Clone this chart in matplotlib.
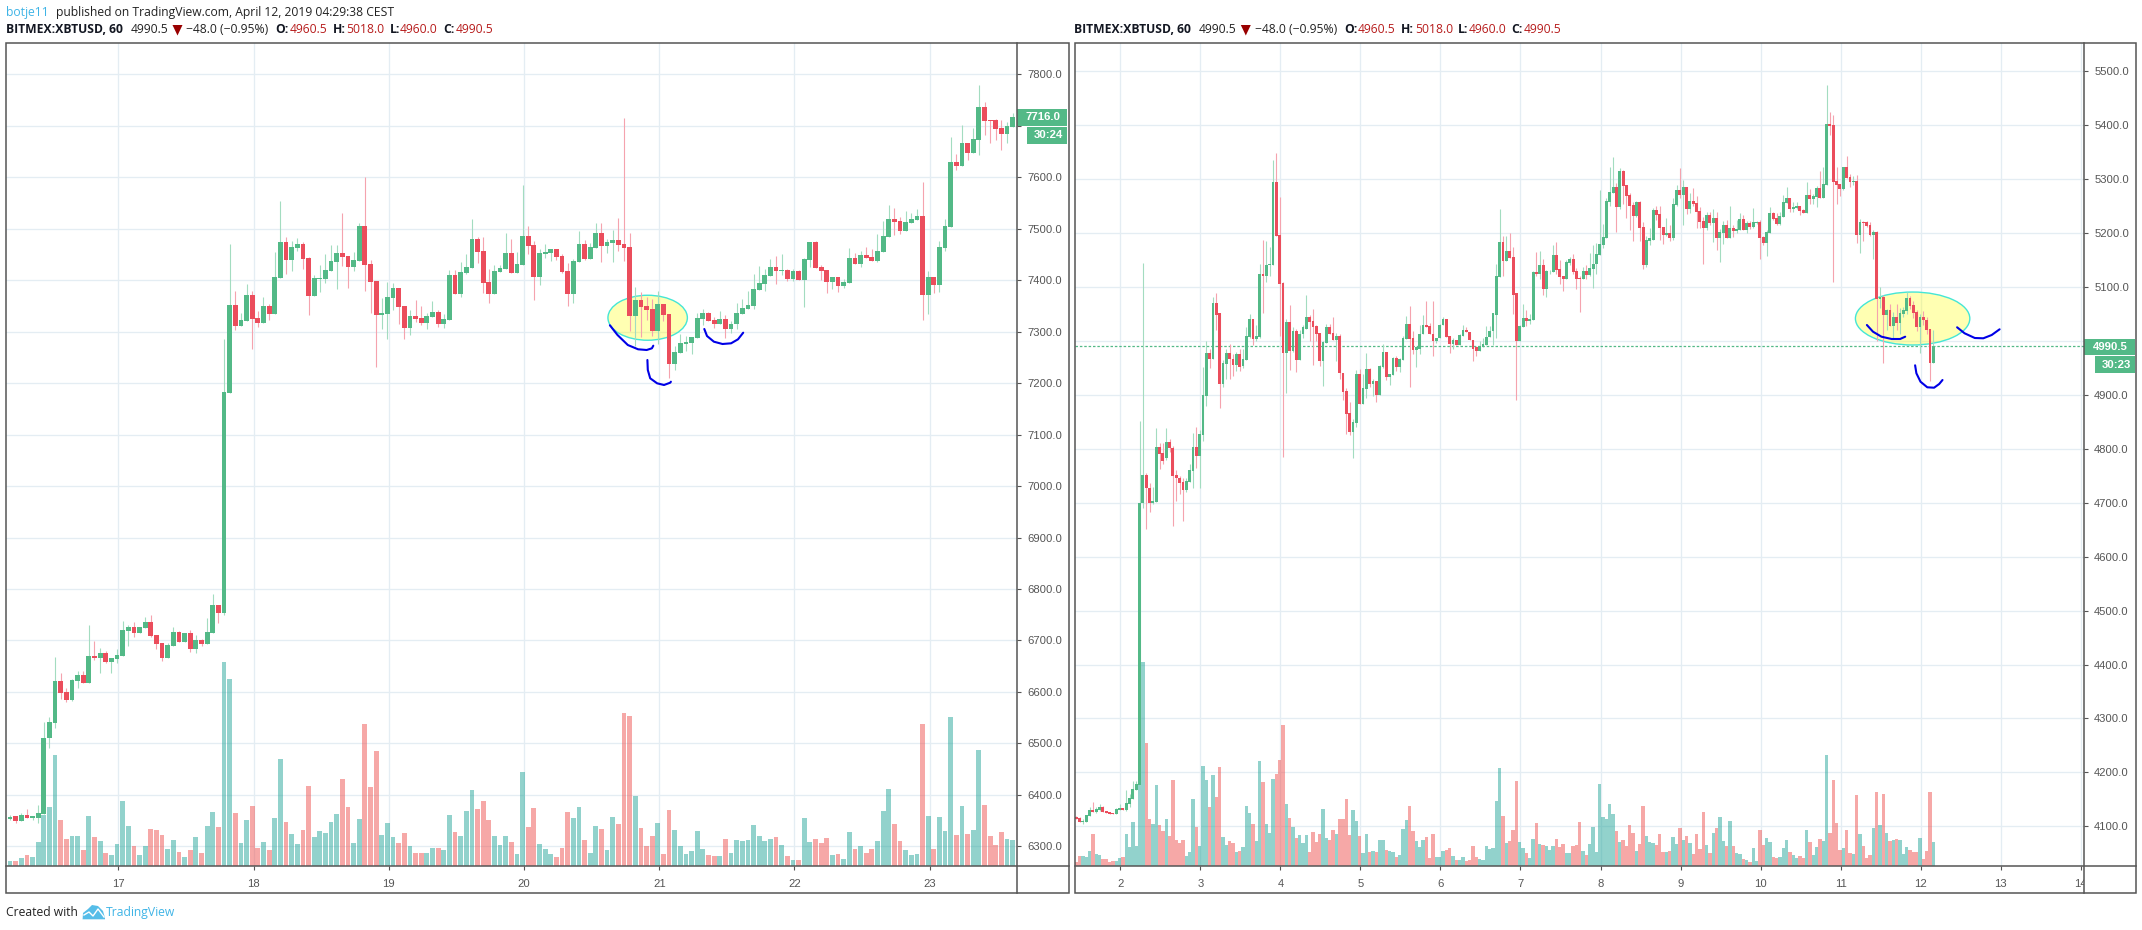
import matplotlib
matplotlib.use('Agg')
import matplotlib.pyplot as plt
import matplotlib.transforms as mtransforms
from matplotlib.patches import Rectangle, Ellipse, Polygon
import numpy as np

# left chart, 1h bars
left_open = [6353,6358,6350,6360,6355,6356,6362,6510,6540,6622,6599,6585,6622,6632,6618,6669,6665,6676,6659,6664,
    6670,6719,6727,6715,6725,6735,6711,6695,6666,6689,6716,6697,6714,6684,6701,6693,6714,6769,6753,7181,
    7352,7311,7321,7371,7327,7317,7350,7334,7404,7474,7439,7463,7470,7443,7369,7402,7402,7418,7435,7453,
    7447,7426,7437,7505,7431,7398,7332,7334,7365,7385,7350,7307,7330,7326,7317,7328,7338,7315,7323,7410,
    7373,7414,7424,7480,7457,7396,7373,7416,7422,7453,7414,7429,7486,7468,7406,7451,7453,7461,7447,7418,
    7373,7435,7470,7441,7462,7491,7466,7472,7478,7470,7464,7330,7361,7350,7344,7301,7354,7334,7237,7258,
    7276,7278,7288,7325,7336,7323,7315,7325,7305,7314,7334,7344,7350,7381,7392,7408,7426,7418,7420,7402,
    7418,7400,7439,7474,7426,7420,7396,7406,7389,7395,7443,7431,7449,7445,7437,7455,7484,7519,7515,7496,
    7511,7517,7525,7371,7406,7391,7463,7503,7630,7622,7667,7647,7672,7737,7711,7711,7696,7684,7698]
left_close = [6357,6350,6360,6355,6358,6364,6510,6541,6622,6597,6585,6624,6632,6618,6669,6665,6676,6659,6665,6671,
    6721,6727,6715,6727,6735,6709,6693,6666,6691,6716,6697,6714,6684,6701,6693,6716,6769,6753,7183,7352,
    7311,7323,7371,7325,7317,7350,7334,7406,7474,7439,7464,7470,7441,7369,7404,7404,7420,7437,7453,7445,
    7426,7439,7505,7429,7396,7332,7336,7367,7385,7348,7307,7330,7324,7317,7330,7338,7315,7325,7410,7373,
    7416,7426,7480,7455,7394,7373,7418,7424,7453,7414,7431,7486,7466,7406,7453,7455,7461,7445,7416,7373,
    7437,7470,7441,7464,7491,7466,7474,7478,7468,7462,7330,7361,7348,7342,7301,7354,7332,7237,7260,7278,
    7280,7290,7326,7336,7321,7315,7325,7305,7315,7336,7346,7352,7383,7394,7410,7426,7418,7420,7402,7418,
    7400,7441,7474,7424,7418,7396,7406,7389,7397,7443,7431,7449,7443,7437,7457,7486,7519,7513,7496,7513,
    7519,7525,7371,7406,7391,7464,7505,7630,7622,7667,7647,7674,7737,7709,7709,7694,7684,7700,7717]
left_high = [6360,6358,6364,6372,6358,6381,6541,6551,6667,6636,6608,6626,6641,6640,6731,6698,6686,6680,6665,6684,
    6738,6731,6735,6727,6746,6750,6711,6695,6695,6726,6718,6714,6720,6711,6703,6743,6790,6769,7285,7470,
    7379,7336,7392,7379,7340,7367,7354,7455,7554,7484,7476,7482,7474,7445,7410,7429,7451,7468,7468,7530,
    7447,7455,7511,7600,7439,7398,7365,7396,7394,7385,7350,7342,7361,7350,7336,7359,7342,7335,7420,7420,
    7435,7451,7519,7484,7484,7422,7429,7429,7492,7480,7455,7585,7505,7476,7460,7470,7461,7461,7451,7433,
    7441,7496,7478,7472,7511,7511,7480,7498,7521,7715,7491,7387,7377,7367,7363,7379,7354,7334,7272,7295,
    7291,7290,7336,7344,7338,7328,7340,7332,7321,7356,7363,7379,7412,7428,7422,7441,7447,7451,7422,7422,
    7420,7443,7474,7476,7429,7420,7406,7406,7402,7463,7453,7457,7465,7461,7490,7515,7546,7540,7523,7534,
    7530,7538,7591,7418,7406,7476,7519,7678,7645,7702,7667,7696,7779,7746,7711,7713,7711,7707,7725]
left_low = [6351,6346,6350,6355,6352,6345,6362,6491,6529,6587,6581,6583,6608,6618,6618,6663,6636,6657,6637,6656,
    6670,6690,6706,6715,6725,6707,6684,6660,6666,6689,6697,6697,6678,6676,6689,6693,6714,6734,6750,7181,
    7303,7311,7321,7266,7309,7317,7323,7334,7404,7412,7418,7457,7422,7332,7369,7377,7395,7418,7383,7428,
    7385,7418,7437,7379,7336,7231,7305,7285,7342,7315,7285,7293,7318,7313,7305,7328,7309,7307,7323,7373,
    7367,7412,7424,7433,7375,7356,7373,7416,7422,7414,7414,7429,7451,7361,7391,7443,7437,7439,7414,7350,
    7356,7435,7439,7441,7462,7435,7453,7435,7457,7437,7301,7272,7290,7323,7291,7276,7321,7210,7225,7258,
    7262,7257,7288,7313,7321,7307,7315,7288,7298,7305,7334,7344,7344,7381,7379,7408,7392,7410,7398,7398,
    7400,7348,7426,7424,7400,7375,7383,7377,7385,7395,7431,7426,7443,7437,7435,7455,7484,7488,7490,7496,
    7511,7517,7323,7334,7375,7377,7457,7503,7614,7622,7634,7647,7643,7682,7667,7672,7653,7667,7698]
left_vol = [16,16,25,34,28,73,154,178,334,139,82,91,91,49,151,88,76,40,34,67,
    196,121,61,34,61,112,109,94,52,79,43,28,49,88,40,121,163,118,613,562,
    160,70,139,181,55,73,49,145,322,133,97,67,109,241,88,106,100,133,157,262,
    178,70,142,427,238,346,94,130,88,70,100,61,40,40,40,55,55,49,154,103,
    91,166,229,172,196,139,91,64,91,73,37,283,118,175,67,52,37,28,55,163,
    145,178,79,40,121,112,49,148,127,460,451,211,115,61,91,130,37,169,109,61,
    37,46,106,52,34,31,31,82,40,79,76,79,124,91,76,82,88,64,31,19,
    19,145,73,82,70,85,34,37,22,103,52,61,40,52,76,166,232,127,76,49,
    34,37,427,151,52,148,106,448,94,181,97,109,349,184,91,64,103,82,79]
left_days = [17, 18, 19, 20, 21, 22, 23]
left_prices = [6300 + 100 * i for i in range(16)]

# right chart, 1h bars
right_open = [4117,4115,4108,4108,4119,4131,4126,4130,4136,4128,
    4127,4125,4123,4131,4134,4130,4141,4151,4167,4177,
    4700,4751,4728,4699,4702,4804,4793,4783,4812,4802,
    4751,4746,4738,4723,4739,4759,4804,4786,4826,4898,
    4977,4966,5071,5051,4921,4958,4977,4967,4956,4975,
    4953,4965,5007,5041,5004,5008,5125,5121,5140,5141,
    5295,5197,5108,4978,5036,4982,5019,4965,5012,5023,
    5045,5037,5028,5015,4963,4997,5025,5015,5002,5010,
    4941,4908,4867,4832,4847,4938,4884,4911,4948,4920,
    4926,4900,4951,4979,4934,4936,4968,4951,4965,5004,
    5032,5006,4984,4986,5012,5030,5028,5013,4999,5005,
    5029,5041,5010,4995,5002,4993,5010,5021,5017,5002,
    4988,4982,4988,4993,5007,5018,5049,5119,5184,5149,
    5167,5156,5088,5000,5026,5043,5037,5039,5128,5124,
    5141,5097,5129,5128,5160,5134,5121,5115,5145,5152,
    5130,5117,5114,5130,5123,5134,5142,5160,5178,5191,
    5258,5275,5286,5249,5315,5290,5271,5252,5232,5258,
    5212,5140,5186,5188,5243,5236,5212,5197,5201,5191,
    5252,5280,5271,5286,5245,5260,5256,5241,5223,5210,
    5234,5219,5228,5191,5200,5215,5191,5210,5204,5206,
    5227,5206,5219,5212,5219,5221,5193,5182,5200,5238,
    5228,5217,5230,5256,5265,5245,5247,5251,5243,5238,
    5271,5263,5267,5284,5265,5289,5402,5400,5297,5291,
    5282,5323,5304,5295,5297,5197,5221,5220,5215,5197,
    5202,5077,5082,5049,5058,5027,5045,5034,5050,5056,
    5080,5067,5054,5026,5045,5039,5023,4960]
right_close = [4114,4108,4110,4121,4131,4127,4132,4136,4127,4125,
    4123,4123,4132,4134,4131,4143,4152,4169,4178,4700,
    4751,4728,4699,4704,4804,4791,4778,4812,4802,4749,
    4746,4736,4723,4741,4760,4804,4786,4828,4899,4977,
    4966,5071,5049,4921,4960,4977,4966,4956,4975,4952,
    4967,5010,5041,5004,5010,5125,5121,5140,5143,5295,
    5195,5106,4978,5036,4982,5019,4965,5013,5025,5045,
    5036,5026,5013,4963,4998,5025,5013,5002,5010,4940,
    4906,4865,4832,4849,4938,4884,4912,4948,4920,4926,
    4900,4953,4979,4934,4938,4968,4951,4966,5006,5032,
    5004,4984,4988,5013,5030,5026,5012,4999,5006,5030,
    5041,5008,4995,5002,4993,5011,5021,5016,5001,4986,
    4982,4990,4995,5008,5019,5051,5121,5184,5149,5167,
    5154,5086,5000,5028,5043,5037,5041,5128,5124,5141,
    5097,5130,5130,5160,5132,5119,5115,5147,5152,5128,
    5115,5114,5130,5123,5136,5143,5162,5180,5193,5260,
    5276,5286,5249,5315,5288,5269,5251,5232,5258,5210,
    5140,5188,5190,5243,5234,5210,5197,5201,5191,5254,
    5280,5271,5286,5245,5260,5254,5239,5221,5210,5234,
    5219,5228,5191,5202,5215,5191,5210,5204,5208,5227,
    5206,5219,5212,5221,5221,5191,5182,5202,5238,5227,
    5217,5232,5258,5265,5245,5249,5251,5241,5238,5271,
    5263,5269,5284,5265,5291,5402,5399,5295,5289,5282,
    5323,5302,5295,5297,5197,5221,5219,5214,5197,5202,
    5077,5082,5049,5058,5027,5045,5034,5052,5058,5080,
    5065,5052,5026,5045,5038,5021,4960,4990.5]
right_high = [4119,4118,4114,4121,4135,4145,4135,4141,4138,4128,
    4127,4125,4134,4141,4134,4167,4160,4184,4184,4852,
    5145,4755,4736,4730,4839,4810,4810,4838,4818,4806,
    4760,4750,4745,4745,4771,4830,4841,4835,4951,5000,
    4985,5082,5089,5051,4965,4985,4995,4975,4980,4985,
    4985,5025,5050,5041,5030,5143,5188,5186,5175,5336,
    5349,5267,5110,5040,5067,5025,5023,5021,5030,5086,
    5049,5060,5030,5015,5000,5031,5031,5045,5014,5012,
    4941,4912,4887,4855,4947,4948,4938,4977,4950,4930,
    4926,4955,4995,4979,4938,4970,4972,4968,5010,5047,
    5065,5019,4988,5030,5049,5075,5034,5075,5006,5032,
    5045,5041,5010,5006,5002,5013,5030,5025,5017,5002,
    4990,5000,5005,5027,5027,5052,5143,5245,5195,5195,
    5201,5175,5088,5030,5069,5058,5050,5130,5165,5167,
    5152,5132,5132,5177,5184,5150,5121,5150,5155,5162,
    5135,5120,5138,5140,5164,5177,5181,5280,5217,5265,
    5322,5342,5293,5321,5317,5290,5275,5257,5260,5260,
    5220,5194,5210,5247,5251,5251,5212,5228,5215,5265,
    5289,5321,5299,5286,5274,5283,5268,5249,5230,5240,
    5240,5244,5240,5208,5222,5225,5250,5215,5225,5237,
    5234,5222,5222,5246,5222,5225,5195,5205,5249,5240,
    5237,5240,5271,5285,5265,5257,5258,5251,5245,5295,
    5281,5272,5287,5316,5323,5475,5425,5419,5323,5291,
    5323,5343,5310,5305,5308,5227,5222,5222,5220,5206,
    5204,5100,5085,5060,5069,5054,5069,5061,5063,5091,
    5083,5075,5058,5050,5055,5045,5023,5021]
right_low = [4113,4108,4104,4108,4119,4127,4124,4128,4127,4125,
    4123,4122,4123,4130,4130,4129,4135,4151,4167,4177,
    4691,4651,4683,4697,4702,4762,4772,4780,4795,4656,
    4704,4717,4667,4720,4739,4728,4765,4728,4815,4880,
    4950,4966,5020,4876,4915,4930,4930,4935,4944,4945,
    4950,4965,5005,4993,5000,5005,5052,5110,5120,5141,
    5195,5010,4784,4904,4947,4980,4943,4965,5005,5023,
    5000,4956,5000,4953,4917,4997,5013,5002,4962,4930,
    4891,4828,4826,4783,4840,4884,4884,4895,4915,4898,
    4887,4900,4950,4927,4919,4936,4945,4942,4965,5004,
    4915,4975,4951,4975,5012,5026,5012,4973,4997,5005,
    5029,5008,4977,4985,4993,4993,5010,5016,5001,4962,
    4973,4982,4988,4993,5007,4992,5005,5119,5121,5149,
    5154,5050,4891,5000,5026,5028,5032,5039,5120,5115,
    5085,5082,5125,5128,5125,5106,5093,5115,5140,5125,
    5097,5054,5114,5115,5120,5099,5125,5160,5172,5191,
    5250,5275,5202,5245,5254,5228,5205,5186,5230,5186,
    5134,5137,5177,5188,5225,5188,5180,5195,5186,5188,
    5250,5265,5215,5235,5237,5250,5210,5210,5142,5205,
    5215,5183,5168,5147,5180,5191,5191,5193,5200,5206,
    5206,5200,5208,5210,5217,5152,5178,5158,5200,5225,
    5215,5215,5230,5255,5240,5240,5245,5234,5238,5238,
    5254,5254,5249,5265,5265,5289,5382,5110,5254,5269,
    5280,5302,5285,5290,5182,5164,5185,5212,5195,5152,
    4999,5061,4960,5020,5027,5005,5020,5012,5045,5050,
    5060,5042,5018,4977,5030,5012,4925,4960]
right_vol = [13,31,31,28,46,97,37,34,22,22,
    13,16,16,25,28,97,58,133,61,463,
    613,370,142,127,244,124,106,142,91,259,
    79,70,79,31,43,202,118,61,301,259,
    178,274,208,298,88,64,76,70,43,46,
    58,181,160,127,76,316,253,127,100,262,
    277,319,424,187,145,118,85,94,70,94,
    43,103,73,97,172,85,79,109,97,142,
    142,202,94,169,136,91,40,97,43,46,
    43,79,79,49,46,43,28,34,112,139,
    181,106,76,58,79,88,25,97,28,28,
    46,49,55,31,19,19,28,16,19,61,
    28,22,19,61,52,55,196,295,151,70,
    76,109,256,73,55,40,25,82,130,67,
    64,61,49,61,82,58,67,40,40,61,
    64,133,46,34,67,118,43,247,148,142,
    187,157,106,73,79,61,124,100,46,67,
    181,91,73,70,64,97,43,43,46,88,
    67,115,79,91,70,37,97,52,163,64,
    40,100,115,148,76,61,136,61,40,37,
    22,19,13,55,16,109,64,85,73,28,
    25,28,55,79,43,34,25,31,25,109,
    73,34,58,82,76,334,100,259,130,49,
    55,109,40,37,214,97,61,25,34,115,
    223,124,217,100,76,79,82,79,37,58,
    49,43,43,85,22,46,223,73]
right_days = [2, 3, 4, 5, 6, 7, 8, 9, 10, 11, 12, 13, 14]
right_prices = [4100 + 100 * i for i in range(15)]

UP = '#53b987'
DOWN = '#eb4d5c'
UP_WICK = '#a3dcc0'
DOWN_WICK = '#f5a3ae'
VOL_UP = '#26a69a'
VOL_DOWN = '#ef5350'
GRID = '#e4edf3'
FRAME = '#555555'
BLUE_TEXT = '#3fb4e6'
RED_TEXT = '#b71c1c'
INK_BLUE = '#0000e6'

W, H = 2142, 930
SANS = 'Open Sans'
AXIS_FONT = 'Liberation Sans'

fig = plt.figure(figsize=(W / 100, H / 100), dpi=100, facecolor='white')


def px_axes(x0, y0, x1, y1, **kw):
    return fig.add_axes([x0 / W, 1 - y1 / H, (x1 - x0) / W, (y1 - y0) / H], **kw)


# overlay in image pixels, for frames, headers and hand drawn bits
over = fig.add_axes([0, 0, 1, 1], zorder=10)
over.set_xlim(0, W)
over.set_ylim(H, 0)
over.axis('off')
over.patch.set_alpha(0)


def candles(x0, x1, bar0, bar_px, day0_bar, ymap, o, h, l, c, v, days, prices, hidden, vol_w, ellipse):
    # x0,x1: plot px range, bar0: px of first bar, ymap: (price, px, px per 100)
    top, bottom = 43.3, 866.3
    ax = px_axes(x0, top, x1, bottom, zorder=2)
    o, h, l, c, v = map(np.array, (o, h, l, c, v))
    idx = np.arange(len(o))
    up = c >= o
    vol_span = (bottom - top) * 3
    vol_tr = mtransforms.blended_transform_factory(ax.transData, ax.transAxes)
    ax.bar(idx[up], v[up] / vol_span, width=vol_w, color=VOL_UP, alpha=0.5, transform=vol_tr, zorder=2, linewidth=0)
    ax.bar(idx[~up], v[~up] / vol_span, width=vol_w, color=VOL_DOWN, alpha=0.5, transform=vol_tr, zorder=2, linewidth=0)
    ax.add_patch(Ellipse(ellipse[:2], ellipse[2], ellipse[3], facecolor=(1, 1, 0, 0.3), edgecolor='#45e6d6', linewidth=1.0, zorder=1.5))
    ax.vlines(idx[up], l[up], h[up], color=UP_WICK, linewidth=0.8, zorder=3)
    ax.vlines(idx[~up], l[~up], h[~up], color=DOWN_WICK, linewidth=0.8, zorder=3)
    ax.bar(idx[up], (c - o)[up], bottom=o[up], width=0.85, color=UP, zorder=4, linewidth=0)
    ax.bar(idx[~up], (o - c)[~up], bottom=c[~up], width=0.85, color=DOWN, zorder=4, linewidth=0)
    ax.set_xlim((x0 - bar0) / bar_px, (x1 - bar0) / bar_px)
    p0, y0, per100 = ymap
    ax.set_ylim(p0 - (bottom - y0) / per100 * 100, p0 + (y0 - top) / per100 * 100)
    # the price box sits on top of this tick's label
    ax.set_yticks(prices, ['' if p == hidden else f'{p:.1f}' for p in prices])
    ax.set_xticks([day0_bar + 24 * i for i in range(len(days))], [str(d) for d in days])
    ax.yaxis.tick_right()
    ax.tick_params(axis='y', length=3, width=0.8, color=FRAME, labelcolor='#555555', pad=4)
    ax.tick_params(axis='x', length=3, width=0.8, color=FRAME, labelcolor='#555555', pad=6)
    for lab in ax.get_xticklabels() + ax.get_yticklabels():
        lab.set_fontfamily(AXIS_FONT)
        lab.set_fontsize(8.1)
    ax.grid(True, color=GRID, linewidth=0.95)
    ax.set_axisbelow(True)
    for sp in ax.spines.values():
        sp.set_visible(False)
    return ax


def frame(x0, x_axis, x1):
    over.add_patch(Rectangle((x0, 43.3), x1 - x0, 850, fill=False, edgecolor=FRAME, linewidth=1.1))
    over.plot([x_axis, x_axis], [43.3, 893.3], color=FRAME, linewidth=1.1)
    over.plot([x0, x1], [866.3, 866.3], color=FRAME, linewidth=1.1)


def label_box(x0, y0, x1, y1, text):
    over.add_patch(Rectangle((x0, y0), x1 - x0, y1 - y0, facecolor=UP, edgecolor='none'))
    over.text((x0 + x1) / 2 + 1, (y0 + y1) / 2, text, color='white', fontsize=8.2, family=AXIS_FONT,
              fontweight='bold', ha='center', va='center')


def header(dx, y):
    runs = [(6.2, 'BITMEX:XBTUSD, 60', 'bold', '#131722'), (130.2, '4990.5', 'normal', '#222222'),
            (186.3, '\u221248.0 (\u22120.95%)', 'normal', '#222222'),
            (275.5, 'O:', 'bold', '#131722'), (289.3, '4960.5', 'normal', RED_TEXT),
            (332.6, 'H:', 'bold', '#131722'), (346.4, '5018.0', 'normal', RED_TEXT),
            (389.5, 'L:', 'bold', '#131722'), (400.1, '4960.0', 'normal', RED_TEXT),
            (443.2, 'C:', 'bold', '#131722'), (455.2, '4990.5', 'normal', RED_TEXT)]
    for x, s, weight, col in runs:
        over.text(x + dx, y, s, fontsize=8.7, family=SANS, fontweight=weight, color=col, va='center')
    over.add_patch(Polygon([(172.5 + dx, 25), (182.5 + dx, 25), (177.5 + dx, 35.5)], facecolor='#990000', edgecolor='none'))


# left panel
ax_l = candles(6.2, 1017.3, 10.0, 5.633, 19.26, (7800, 74.3, 51.47),
               left_open, left_high, left_low, left_close, left_vol, left_days, left_prices, 7700, 0.85,
               (113.2, 7327, 14.1, 87.4))
frame(6.2, 1017.3, 1068.6)
label_box(1017.3, 109, 1067, 126, '7716.0')
label_box(1027, 127, 1067, 143.7, '30:24')

# right panel
ax_r = candles(1074.5, 2084.4, 1076.2, 3.335, 13.22, (5500, 71.3, 53.93),
               right_open, right_high, right_low, right_close, right_vol, right_days, right_prices, 5000, 1.0,
               (250.8, 5041.6, 34.3, 98.2))
ax_r.axhline(4990.5, color=UP, linewidth=0.9, linestyle=(0, (2, 1.5)), zorder=2.5)
# the 14 is cut off by the price scale
clip = mtransforms.TransformedBbox(mtransforms.Bbox([[0, 0], [2084.4, H]]), mtransforms.IdentityTransform())
for lab in ax_r.get_xticklabels():
    lab.set_clip_box(clip)
    lab.set_clip_on(True)
frame(1074.5, 2084.4, 2135.6)
label_box(2084.4, 338.5, 2134.8, 355, '4990.5')
label_box(2095, 356, 2134.8, 373, '30:23')

# hand drawn curves
curves = [
    [(609.9, 325.3), (617.5, 335), (627.8, 345), (638.1, 349.3), (646.7, 350), (651.9, 348.3), (653.3, 345.7)],
    [(647.4, 360), (647.8, 370), (650.2, 378.3), (657.1, 383.3), (664, 385), (670.2, 382.7), (670.9, 381.7)],
    [(704.3, 329), (707, 336), (713.9, 341.7), (722.5, 344), (731.1, 343.3), (738, 339.3), (743.2, 332.7)],
    [(1866.9, 325), (1873, 331.7), (1881.5, 336.7), (1891.6, 339), (1900.1, 339), (1905.2, 336.7)],
    [(1957.1, 327.3), (1964.6, 333.3), (1974.8, 338), (1983.3, 338.3), (1991.7, 335), (1999.6, 329.3)],
    [(1915.1, 365.3), (1916.4, 373.3), (1920.5, 381.7), (1927.3, 387.3), (1934.1, 387.7), (1939.2, 384), (1942.5, 380)],
]
for pts in curves:
    xs, ys = zip(*pts)
    over.plot(xs, ys, color=INK_BLUE, linewidth=1.5, solid_capstyle='round', solid_joinstyle='round')

# headers
over.text(6.2, 12.7, 'botje11', fontsize=8.7, family=SANS, color=BLUE_TEXT, va='center')
over.text(55.8, 12.7, 'published on TradingView.com, April 12, 2019 04:29:38 CEST', fontsize=8.7, family=SANS, color='#222222', va='center')
header(0, 29.3)
header(1068.3, 29.3)

# footer
over.text(6.2, 912.7, 'Created with', fontsize=8.7, family=SANS, color='#222222', va='center')
over.add_patch(Polygon([(82.6, 919.3), (83, 913), (88, 909), (92, 905), (98, 906), (103, 911), (105, 918), (105, 919.3)], facecolor='#56bde8', edgecolor='none'))
over.plot([84, 89, 93, 98, 104], [915, 912, 916, 909, 917], color='white', linewidth=1.0)
over.text(106, 912.7, 'TradingView', fontsize=8.7, family=SANS, color=BLUE_TEXT, va='center')

fig.savefig('out.png', dpi=100)
